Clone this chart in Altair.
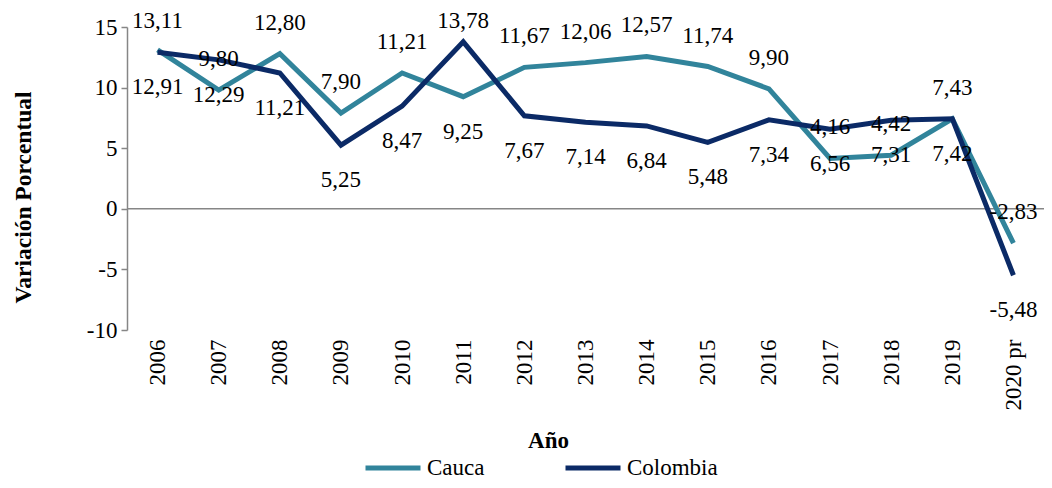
import altair as alt
import pandas as pd

years = ["2006", "2007", "2008", "2009", "2010", "2011", "2012", "2013",
         "2014", "2015", "2016", "2017", "2018", "2019", "2020 pr"]
cauca = [13.11, 9.80, 12.80, 7.90, 11.21, 9.25, 11.67, 12.06,
         12.57, 11.74, 9.90, 4.16, 4.42, 7.43, -2.83]
colombia = [12.91, 12.29, 11.21, 5.25, 8.47, 13.78, 7.67, 7.14,
            6.84, 5.48, 7.34, 6.56, 7.31, 7.42, -5.48]
series = ["Cauca", "Colombia"]
colors = ["#31849B", "#0B2A66"]

rows = []
for s, vals in zip(series, [cauca, colombia]):
    for y, v in zip(years, vals):
        rows.append({
            "anio": y,
            "serie": s,
            "valor": v,
            "etiqueta": f"{v:.2f}".replace(".", ","),
            "arriba": (s == "Cauca") != (y == "2011"),
        })
df = pd.DataFrame(rows)

FONT = "Liberation Serif"
FS = 23
YDOM = [-10, 15]

x_enc = alt.X(
    "anio:N", sort=years,
    scale=alt.Scale(type="point", padding=0.5),
    axis=alt.Axis(
        title="Año", labelAngle=270, labelFont=FONT, labelFontSize=FS,
        labelColor="black", labelPadding=9, ticks=False, domain=False,
        titleFont=FONT, titleFontSize=23, titleFontWeight="bold",
        titleColor="black", titleX=421, titleY=110, titleBaseline="middle",
    ),
)
y_enc = alt.Y(
    "valor:Q",
    scale=alt.Scale(domain=YDOM, nice=False, zero=False),
    axis=alt.Axis(
        title="Variación Porcentual", values=[-10, -5, 0, 5, 10, 15],
        labelExpr="'' + datum.value",
        grid=False, domainColor="#868686", domainWidth=1.5,
        tickColor="#868686", tickWidth=1.5, tickSize=6,
        labelFont=FONT, labelFontSize=FS, labelColor="black", labelPadding=4,
        titleFont=FONT, titleFontSize=23.5, titleFontWeight="bold",
        titleColor="black", titleX=-104, titleY=170, titleBaseline="middle",
    ),
)

base = alt.Chart(df)

zero = alt.Chart(pd.DataFrame({"z": [0]})).mark_rule(
    color="#868686", strokeWidth=1.5
).encode(y=alt.Y("z:Q", scale=alt.Scale(domain=YDOM, nice=False)))

lines = base.mark_line(strokeWidth=5).encode(
    x=x_enc,
    y=y_enc,
    color=alt.Color(
        "serie:N",
        scale=alt.Scale(domain=series, range=colors),
        legend=alt.Legend(
            title=None, orient="none", legendX=236, legendY=411,
            direction="horizontal", columns=2, symbolType="stroke",
            symbolSize=3025, symbolStrokeWidth=5, labelFont=FONT,
            labelFontSize=FS, labelColor="black", labelOffset=4,
            columnPadding=70,
        ),
    ),
)

above = base.transform_filter("datum.arriba").transform_calculate(
    ylab="min(datum.valor, 12.95)"
).mark_text(
    dy=-31, font=FONT, fontSize=FS, color="black", baseline="middle"
).encode(x=alt.X("anio:N", sort=years), y="ylab:Q", text="etiqueta:N")

below = base.transform_filter("!datum.arriba").mark_text(
    dy=35, font=FONT, fontSize=FS, color="black", baseline="middle"
).encode(x=alt.X("anio:N", sort=years), y="valor:Q", text="etiqueta:N")

chart = alt.layer(zero, lines, above, below).properties(
    width=917, height=303,
    autosize=alt.AutoSizeParams(type="none"),
    padding={"left": 119, "top": 19, "right": 0, "bottom": 150},
).configure_view(stroke=None)

chart.save("out.html", embed_options={"renderer": "svg", "actions": False})
